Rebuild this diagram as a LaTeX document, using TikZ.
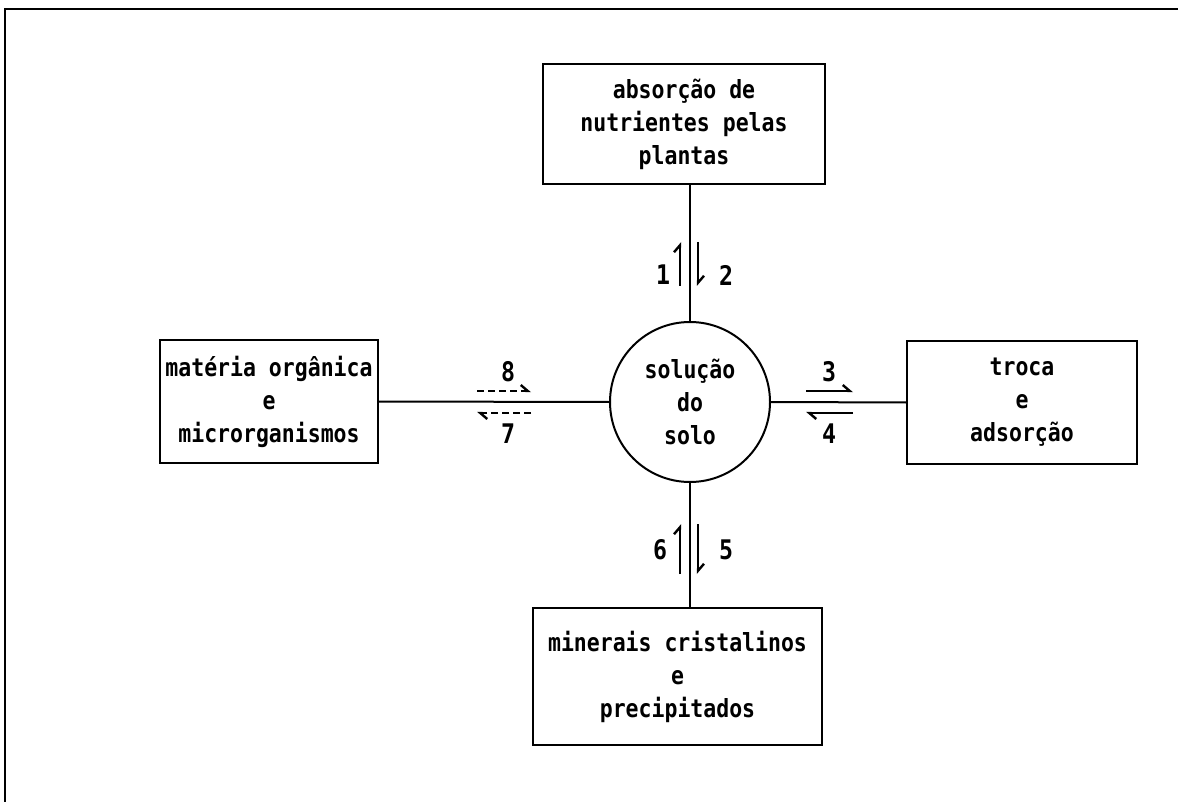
\documentclass[tikz,border=0pt]{standalone}
\usepackage{fontspec}
\newfontfamily\maqfont{DejaVu Sans Mono}[FakeStretch=0.86]
\usetikzlibrary{arrows.meta}
\newcommand{\boxfont}{\maqfont\bfseries\fontsize{25}{33}\selectfont}
\tikzset{
  caixa/.style={draw, line width=2pt, align=center, font=\boxfont, inner sep=0pt},
  ligacao/.style={line width=2pt},
  harpa/.style={line width=2.4pt, -{Straight Barb[harpoon, length=7pt, width=12pt]}},
  harpatrac/.style={harpa, dash pattern=on 7pt off 4pt},
  numero/.style={font=\maqfont\bfseries\fontsize{27}{27}\selectfont}
}
\begin{document}
\begin{tikzpicture}[x=1pt, y=-1pt]
\useasboundingbox (0,0) rectangle (1178,802);
% moldura
\draw[line width=2pt] (5,802) -- (5,9) -- (1178,9);
% caixas
\node[caixa, minimum width=282pt, minimum height=120pt] (absorcao) at (684,124) {absorção de\\nutrientes pelas\\plantas};
\node[caixa, minimum width=218pt, minimum height=123pt] (materia) at (269,401.5) {matéria orgânica\\e\\microrganismos};
\node[caixa, minimum width=230pt, minimum height=123pt] (troca) at (1022,402.5) {troca\\e\\adsorção};
\node[caixa, minimum width=289pt, minimum height=137pt] (minerais) at (677.5,676.5) {minerais cristalinos\\e\\precipitados};
\node[caixa, circle, minimum size=160pt] (solucao) at (690,402) {solução\\do\\solo};
% ligacoes
\draw[ligacao] (solucao.north) -- (solucao.north |- absorcao.south);
\draw[ligacao] (solucao.south) -- (solucao.south |- minerais.north);
\draw[ligacao] (solucao.west) -- (materia.east);
\draw[ligacao] (solucao.east) -- (troca.west);
% setas
\coordinate (c1) at (680,242);
\coordinate (c2) at (698,242);
\draw[harpa] (c1 |- 0,286) -- (c1);
\draw[harpa] (c2) -- (c2 |- 0,286);
\node[numero] (n1) at (663,275) {1};
\node[numero] (n2) at (726,275) {2};
\coordinate (c6) at (680,524);
\coordinate (c5) at (698,524);
\draw[harpa] (c6 |- 0,574) -- (c6);
\draw[harpa] (c5) -- (c5 |- 0,574);
\node[numero] (n6) at (660,550) {6};
\node[numero] (n5) at (726,550) {5};
\coordinate (c3) at (806,391);
\coordinate (c4) at (853,413);
\draw[harpa] (c3) -- (c3 -| c4);
\draw[harpa] (c4) -- (c4 -| c3);
\node[numero] (n3) at (829,372) {3};
\node[numero] (n4) at (829,434) {4};
\coordinate (c8) at (477,391);
\coordinate (c7) at (531,413);
\draw[harpatrac] (c8) -- (c8 -| c7);
\draw[harpatrac] (c7) -- (c7 -| c8);
\node[numero] (n8) at (508,372) {8};
\node[numero] (n7) at (508,434) {7};
\end{tikzpicture}
\end{document}
